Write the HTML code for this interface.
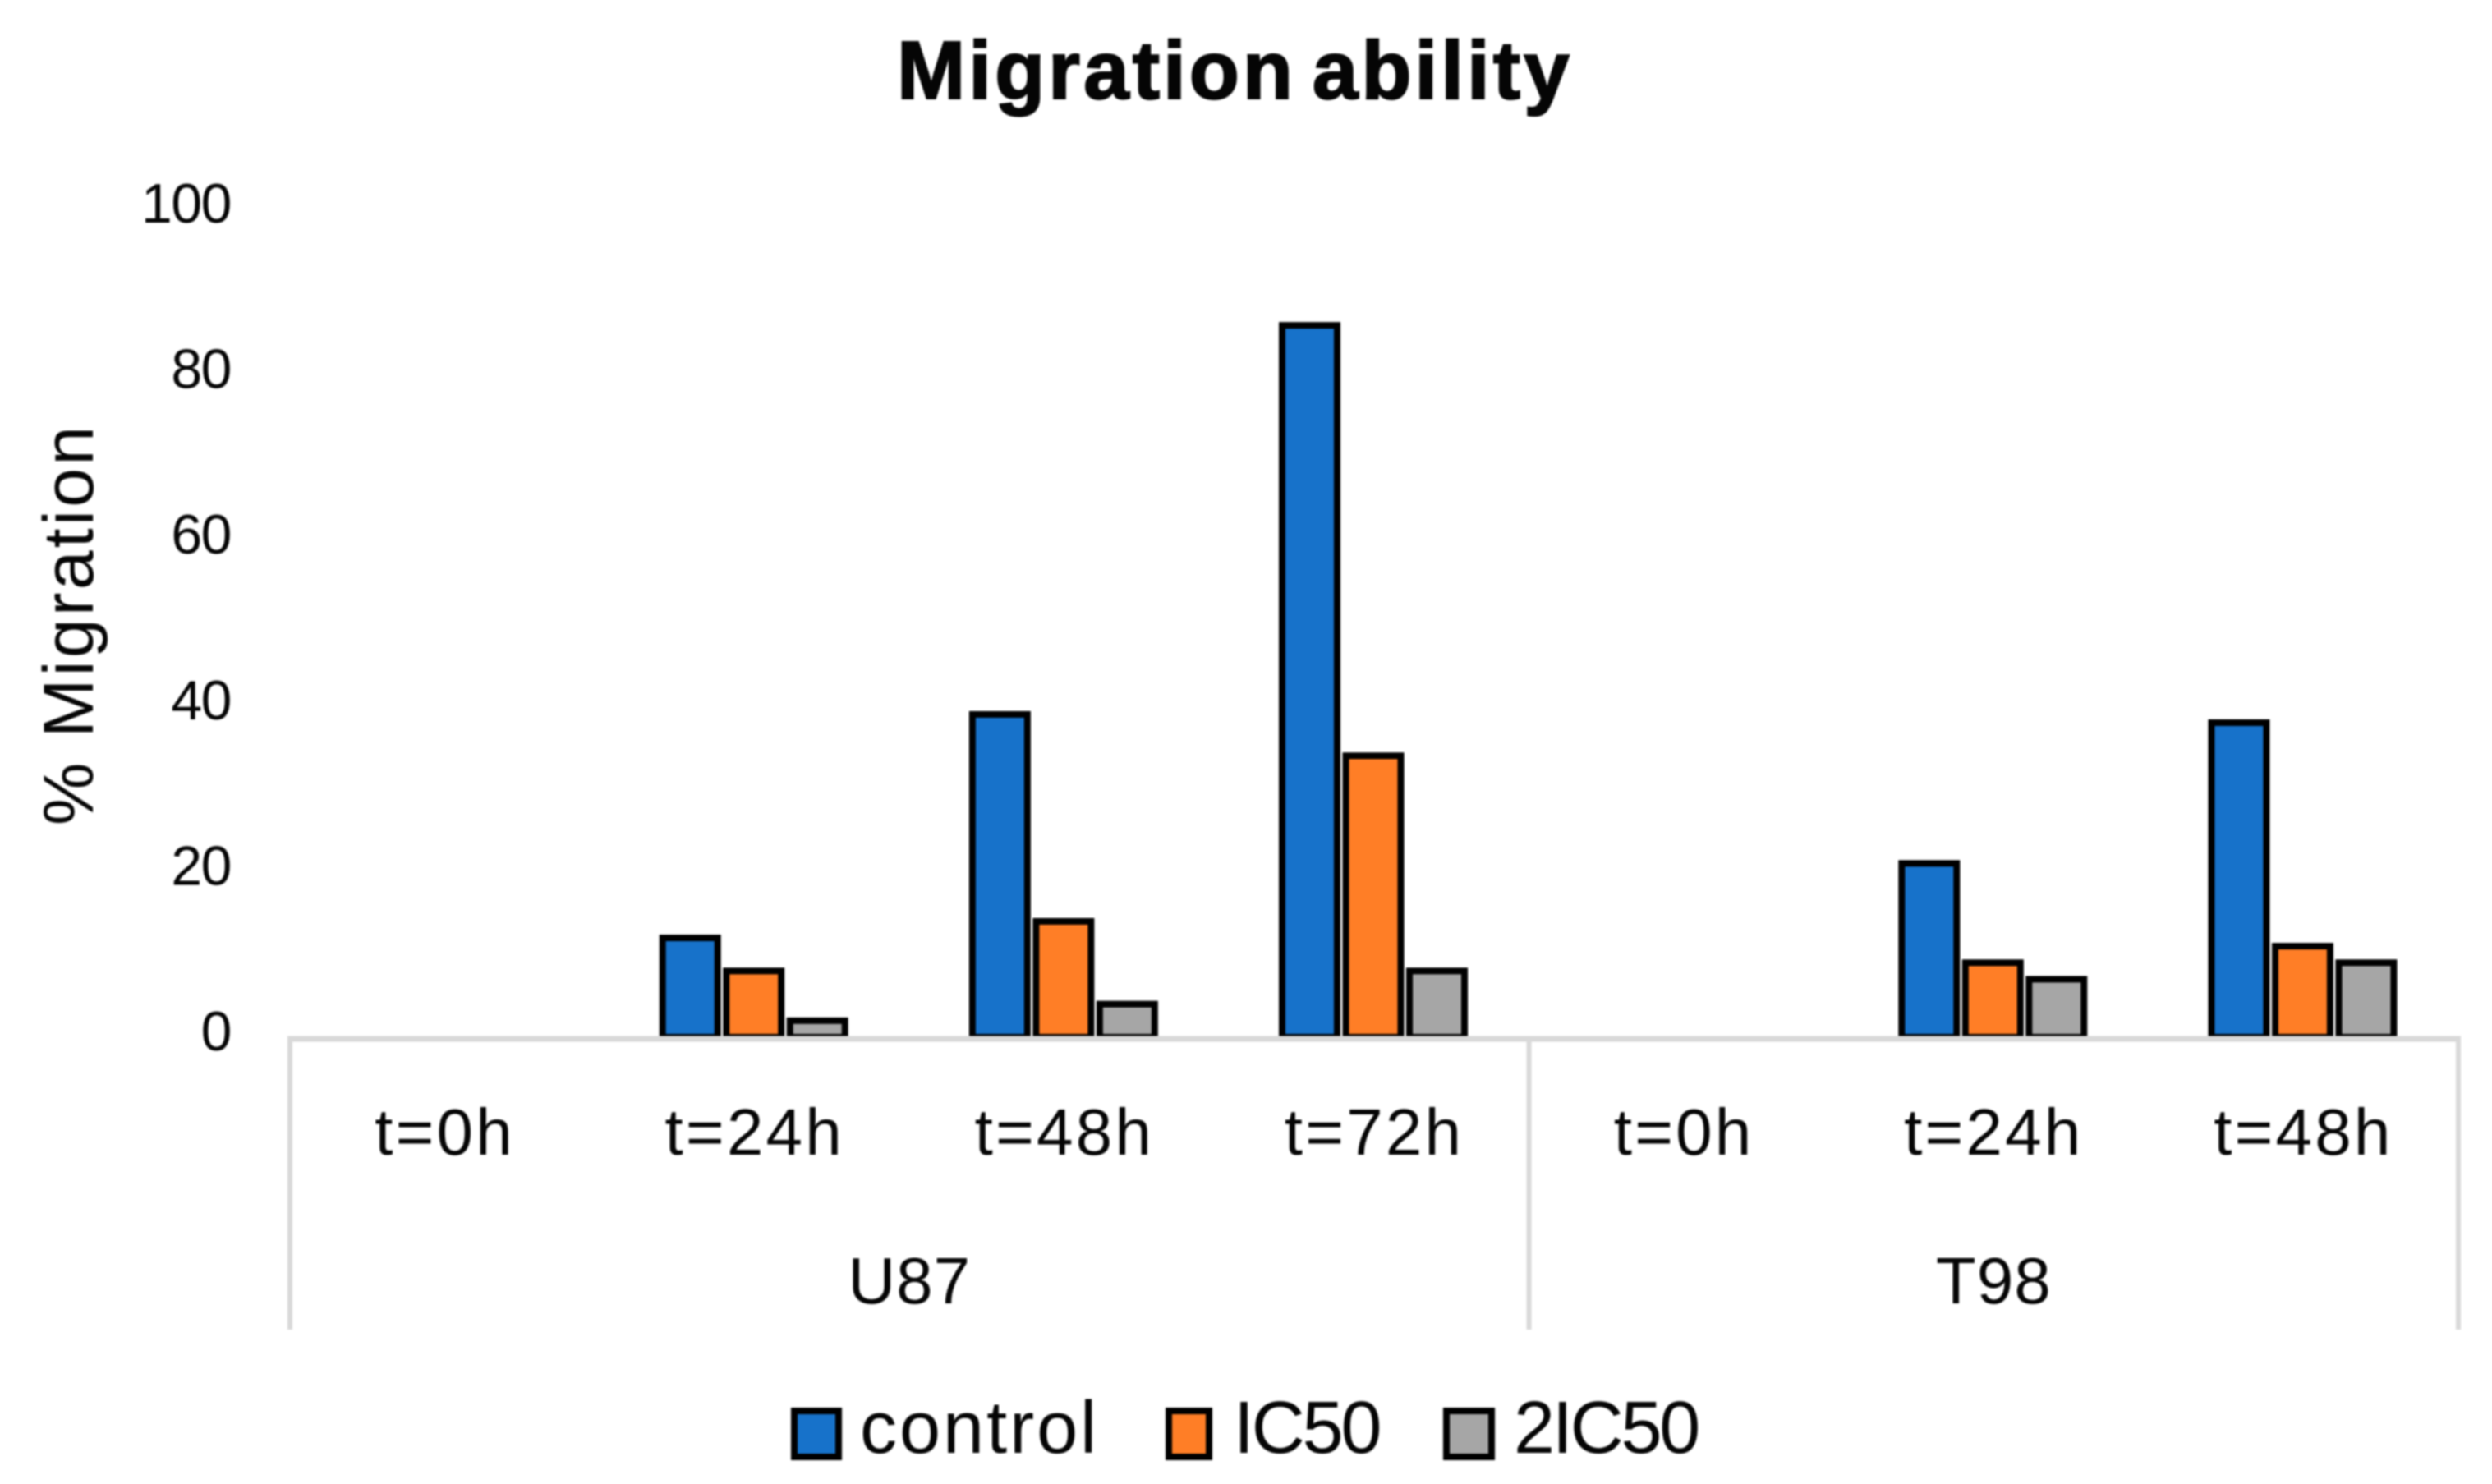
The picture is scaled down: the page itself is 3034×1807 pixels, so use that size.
<!DOCTYPE html>
<html>
<head>
<meta charset="utf-8">
<title>Migration ability</title>
<style>
html,body{margin:0;padding:0;background:#fff;}
svg{display:block;filter:blur(1px);}
text{font-family:"Liberation Sans",sans-serif;fill:#050505;}
</style>
</head>
<body>
<svg id="chart" xmlns="http://www.w3.org/2000/svg" width="3034" height="1807" viewBox="0 0 3034 1807">
  <rect x="0" y="0" width="3034" height="1807" fill="#fff"/>
  <text x="1092" y="120" font-size="100" font-weight="bold" letter-spacing="4" word-spacing="-12" stroke="#050505" stroke-width="2">Migration ability</text>
  <text transform="translate(113,1005) rotate(-90)" font-size="86" letter-spacing="3.2">% Migration</text>
  <g id="bars"></g>
  <g id="axes"></g>
  <g>
    <g>
      <rect x="967" y="1718" width="54" height="56" fill="#1772CA" stroke="#000" stroke-width="8"/>
      <text x="1047" y="1769" font-size="90" letter-spacing="3">control</text>
    </g>
    <g>
      <rect x="1423" y="1718" width="49" height="56" fill="#FF7E26" stroke="#000" stroke-width="8"/>
      <text x="1502" y="1769" font-size="90" letter-spacing="-3.2">IC50</text>
    </g>
    <g>
      <rect x="1761" y="1718" width="55" height="56" fill="#A6A6A6" stroke="#000" stroke-width="8"/>
      <text x="1843" y="1769" font-size="90" letter-spacing="-3.2">2IC50</text>
    </g>
  </g>
</svg>
<script>
const groups = ["U87", "T98"];
const groupSizes = [4, 3];
const categories = ["t=0h", "t=24h", "t=48h", "t=72h", "t=0h", "t=24h", "t=48h"];
const control = [0, 12, 39, 86, 0, 21, 38];
const ic50 = [0, 8, 14, 34, 0, 9, 11];
const twoIc50 = [0, 2, 4, 8, 0, 7, 9];
const yTicks = [0, 20, 40, 60, 80, 100];

const NS = "http://www.w3.org/2000/svg";
const plotLeft = 353, plotRight = 2993, plotBaseline = 1263, plotTop = 255, axisBottom = 1619;
const catWidth = (plotRight - plotLeft) / categories.length;
const yScale = v => plotBaseline - (v / 100) * (plotBaseline - plotTop);
const xCenter = i => plotLeft + catWidth * (i + 0.5);
const barStep = 77.5, barStroke = 8, barOuter = 75;

function el(tag, attrs, parent, text) {
  const e = document.createElementNS(NS, tag);
  for (const k in attrs) e.setAttribute(k, attrs[k]);
  if (text !== undefined) e.textContent = text;
  parent.appendChild(e);
  return e;
}

const barsG = document.getElementById("bars");
const axesG = document.getElementById("axes");

function drawSeries(values, seriesIndex, color, seriesName) {
  values.forEach((v, i) => {
    if (!(v > 0)) return;
    const left = xCenter(i) + (seriesIndex - 1) * barStep - barOuter / 2 - 1;
    const r = el("rect", {
      x: left + barStroke / 2,
      y: yScale(v),
      width: barOuter - barStroke,
      height: plotBaseline - yScale(v),
      fill: color,
      stroke: "#000",
      "stroke-width": barStroke
    }, barsG);
    
    
  });
}
drawSeries(control, 0, "#1772CA", "control");
drawSeries(ic50, 1, "#FF7E26", "ic50");
drawSeries(twoIc50, 2, "#A6A6A6", "2ic50");

const axisLine = el("line", {x1: plotLeft - 3, x2: plotRight + 3, y1: plotBaseline + 2, y2: plotBaseline + 2, stroke: "#D9D9D9", "stroke-width": 7}, axesG);



yTicks.forEach(t => {
  const label = el("text", {x: 281, y: yScale(t) + 16, "font-size": 68, "letter-spacing": -1.5, "text-anchor": "end"}, axesG, String(t));
  
  
});

categories.forEach((c, i) => {
  const label = el("text", {x: xCenter(i), y: 1406, "font-size": 80, "letter-spacing": 3.2, "text-anchor": "middle"}, axesG, c);
  
  
});

let start = 0;
function drawDivider(index) {
  const x = plotLeft + catWidth * index;
  const d = el("line", {x1: x, x2: x, y1: plotBaseline, y2: axisBottom, stroke: "#D9D9D9", "stroke-width": 6}, axesG);
  
  
}
drawDivider(0);
groups.forEach((g, gi) => {
  const end = start + groupSizes[gi];
  const label = el("text", {x: plotLeft + catWidth * (start + end) / 2, y: 1587, "font-size": 80, "letter-spacing": 1, "text-anchor": "middle"}, axesG, g);
  
  
  drawDivider(end);
  start = end;
});
</script>
</body>
</html>
